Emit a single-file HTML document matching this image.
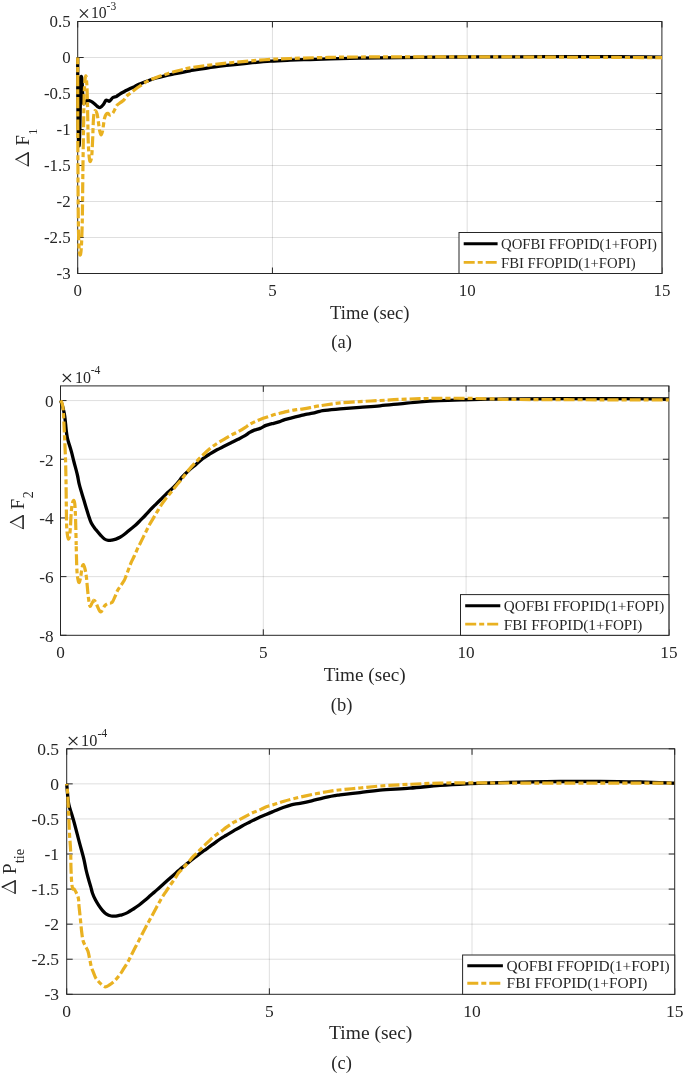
<!DOCTYPE html>
<html><head><meta charset="utf-8"><style>
html,body{margin:0;padding:0;background:#fff;overflow:hidden;}
svg{display:block;will-change:transform;}
text{font-family:"Liberation Serif", serif;fill:#262626;}
</style></head><body>
<svg width="685" height="1074" viewBox="0 0 685 1074">
<rect width="685" height="1074" fill="#fff"/>
<line x1="272.43" y1="21.5" x2="272.43" y2="273.5" stroke="#262626" stroke-opacity="0.15" stroke-width="1"/>
<line x1="467.17" y1="21.5" x2="467.17" y2="273.5" stroke="#262626" stroke-opacity="0.15" stroke-width="1"/>
<line x1="77.7" y1="57.50" x2="661.9" y2="57.50" stroke="#262626" stroke-opacity="0.15" stroke-width="1"/>
<line x1="77.7" y1="93.50" x2="661.9" y2="93.50" stroke="#262626" stroke-opacity="0.15" stroke-width="1"/>
<line x1="77.7" y1="129.50" x2="661.9" y2="129.50" stroke="#262626" stroke-opacity="0.15" stroke-width="1"/>
<line x1="77.7" y1="165.50" x2="661.9" y2="165.50" stroke="#262626" stroke-opacity="0.15" stroke-width="1"/>
<line x1="77.7" y1="201.50" x2="661.9" y2="201.50" stroke="#262626" stroke-opacity="0.15" stroke-width="1"/>
<line x1="77.7" y1="237.50" x2="661.9" y2="237.50" stroke="#262626" stroke-opacity="0.15" stroke-width="1"/>
<line x1="77.70" y1="273.5" x2="77.70" y2="267.5" stroke="#262626" stroke-width="1"/>
<line x1="77.70" y1="21.5" x2="77.70" y2="27.5" stroke="#262626" stroke-width="1"/>
<line x1="272.43" y1="273.5" x2="272.43" y2="267.5" stroke="#262626" stroke-width="1"/>
<line x1="272.43" y1="21.5" x2="272.43" y2="27.5" stroke="#262626" stroke-width="1"/>
<line x1="467.17" y1="273.5" x2="467.17" y2="267.5" stroke="#262626" stroke-width="1"/>
<line x1="467.17" y1="21.5" x2="467.17" y2="27.5" stroke="#262626" stroke-width="1"/>
<line x1="661.90" y1="273.5" x2="661.90" y2="267.5" stroke="#262626" stroke-width="1"/>
<line x1="661.90" y1="21.5" x2="661.90" y2="27.5" stroke="#262626" stroke-width="1"/>
<line x1="77.7" y1="21.50" x2="83.7" y2="21.50" stroke="#262626" stroke-width="1"/>
<line x1="661.9" y1="21.50" x2="655.9" y2="21.50" stroke="#262626" stroke-width="1"/>
<line x1="77.7" y1="57.50" x2="83.7" y2="57.50" stroke="#262626" stroke-width="1"/>
<line x1="661.9" y1="57.50" x2="655.9" y2="57.50" stroke="#262626" stroke-width="1"/>
<line x1="77.7" y1="93.50" x2="83.7" y2="93.50" stroke="#262626" stroke-width="1"/>
<line x1="661.9" y1="93.50" x2="655.9" y2="93.50" stroke="#262626" stroke-width="1"/>
<line x1="77.7" y1="129.50" x2="83.7" y2="129.50" stroke="#262626" stroke-width="1"/>
<line x1="661.9" y1="129.50" x2="655.9" y2="129.50" stroke="#262626" stroke-width="1"/>
<line x1="77.7" y1="165.50" x2="83.7" y2="165.50" stroke="#262626" stroke-width="1"/>
<line x1="661.9" y1="165.50" x2="655.9" y2="165.50" stroke="#262626" stroke-width="1"/>
<line x1="77.7" y1="201.50" x2="83.7" y2="201.50" stroke="#262626" stroke-width="1"/>
<line x1="661.9" y1="201.50" x2="655.9" y2="201.50" stroke="#262626" stroke-width="1"/>
<line x1="77.7" y1="237.50" x2="83.7" y2="237.50" stroke="#262626" stroke-width="1"/>
<line x1="661.9" y1="237.50" x2="655.9" y2="237.50" stroke="#262626" stroke-width="1"/>
<line x1="77.7" y1="273.50" x2="83.7" y2="273.50" stroke="#262626" stroke-width="1"/>
<line x1="661.9" y1="273.50" x2="655.9" y2="273.50" stroke="#262626" stroke-width="1"/>
<rect x="77.7" y="21.5" width="584.20" height="252.00" fill="none" stroke="#262626" stroke-width="1"/>
<clipPath id="clipa"><rect x="75.7" y="20.5" width="587.1999999999999" height="254.0"/></clipPath><g clip-path="url(#clipa)"><path d="M77.70,57.50 C77.72,62.92 77.73,78.75 77.80,90.00 C77.87,101.25 77.97,116.17 78.10,125.00 C78.23,133.83 78.40,139.83 78.60,143.00 C78.80,146.17 79.08,147.00 79.30,144.00 C79.52,141.00 79.72,132.33 79.90,125.00 C80.08,117.67 80.23,107.50 80.40,100.00 C80.57,92.50 80.73,83.92 80.90,80.00 C81.07,76.08 81.22,76.50 81.40,76.50 C81.58,76.50 81.78,76.92 82.00,80.00 C82.22,83.08 82.43,91.08 82.70,95.00 C82.97,98.92 83.13,102.42 83.60,103.50 C84.07,104.58 84.82,102.03 85.50,101.50 C86.18,100.97 86.75,100.32 87.70,100.30 C88.65,100.28 90.03,100.78 91.20,101.40 C92.37,102.02 93.65,103.15 94.70,104.00 C95.75,104.85 96.60,105.92 97.50,106.50 C98.40,107.08 99.12,107.83 100.10,107.50 C101.08,107.17 102.43,105.70 103.40,104.50 C104.37,103.30 105.17,100.95 105.90,100.30 C106.63,99.65 107.18,100.45 107.80,100.60 C108.42,100.75 108.75,101.72 109.60,101.20 C110.45,100.68 111.77,98.30 112.90,97.50 C114.03,96.70 115.32,96.93 116.40,96.40 C117.48,95.87 118.13,95.08 119.40,94.30 C120.67,93.52 122.35,92.57 124.00,91.70 C125.65,90.83 127.55,89.95 129.30,89.10 C131.05,88.25 132.92,87.40 134.50,86.60 C136.08,85.80 136.63,85.23 138.80,84.30 C140.97,83.37 144.58,82.05 147.50,81.00 C150.42,79.95 153.38,78.87 156.30,78.00 C159.22,77.13 162.08,76.47 165.00,75.80 C167.92,75.13 170.87,74.58 173.80,74.00 C176.73,73.42 179.90,72.83 182.60,72.30 C185.30,71.77 184.60,71.72 190.00,70.80 C195.40,69.88 205.27,68.07 215.00,66.80 C224.73,65.53 239.18,64.13 248.40,63.20 C257.62,62.27 263.37,61.70 270.30,61.20 C277.23,60.70 283.38,60.48 290.00,60.20 C296.62,59.92 303.33,59.72 310.00,59.50 C316.67,59.28 321.67,59.13 330.00,58.90 C338.33,58.67 348.33,58.32 360.00,58.10 C371.67,57.88 383.33,57.78 400.00,57.60 C416.67,57.42 440.00,57.13 460.00,57.00 C480.00,56.87 503.33,56.87 520.00,56.80 C536.67,56.73 546.67,56.63 560.00,56.60 C573.33,56.57 588.33,56.57 600.00,56.60 C611.67,56.63 619.67,56.72 630.00,56.80 C640.33,56.88 656.67,57.05 662.00,57.10" fill="none" stroke="#000" stroke-width="3.3" stroke-linejoin="round"/>
<path d="M77.70,57.50 C77.72,69.58 77.72,104.58 77.80,130.00 C77.88,155.42 78.02,190.83 78.20,210.00 C78.38,229.17 78.60,237.50 78.90,245.00 C79.20,252.50 79.60,254.50 80.00,255.00 C80.40,255.50 80.92,253.83 81.30,248.00 C81.68,242.17 82.03,233.00 82.30,220.00 C82.57,207.00 82.68,185.83 82.90,170.00 C83.12,154.17 83.37,138.00 83.60,125.00 C83.83,112.00 83.97,100.17 84.30,92.00 C84.63,83.83 85.18,77.33 85.60,76.00" fill="none" stroke="#e9b121" stroke-width="3.2" stroke-dasharray="11 3 5 3" stroke-dashoffset="4.25" stroke-linejoin="round"/>
<path d="M85.60,76.00 C86.02,74.67 86.48,79.17 86.80,84.00 C87.12,88.83 87.27,95.67 87.50,105.00 C87.73,114.33 87.92,131.33 88.20,140.00 C88.48,148.67 88.83,153.42 89.20,157.00 C89.57,160.58 89.97,161.83 90.40,161.50 C90.83,161.17 91.42,158.92 91.80,155.00 C92.18,151.08 92.43,143.83 92.70,138.00 C92.97,132.17 93.13,124.33 93.40,120.00 C93.67,115.67 93.93,113.53 94.30,112.00 C94.67,110.47 95.13,110.47 95.60,110.80" fill="none" stroke="#e9b121" stroke-width="3.2" stroke-dasharray="11 3 5 3" stroke-dashoffset="9.25" stroke-linejoin="round"/>
<path d="M95.60,110.80 C96.07,111.13 96.63,112.13 97.10,114.00 C97.57,115.87 97.97,119.17 98.40,122.00 C98.83,124.83 99.25,128.83 99.70,131.00 C100.15,133.17 100.62,135.00 101.10,135.00 C101.58,135.00 102.18,132.83 102.60,131.00 C103.02,129.17 103.27,126.17 103.60,124.00 C103.93,121.83 104.17,119.63 104.60,118.00 C105.03,116.37 105.63,114.97 106.20,114.20 C106.77,113.43 107.40,113.27 108.00,113.40 C108.60,113.53 109.22,114.82 109.80,115.00 C110.38,115.18 110.88,115.00 111.50,114.50 C112.12,114.00 112.87,113.00 113.50,112.00 C114.13,111.00 114.68,109.67 115.30,108.50 C115.92,107.33 116.33,105.98 117.20,105.00 C118.07,104.02 119.37,103.47 120.50,102.60 C121.63,101.73 123.03,100.83 124.00,99.80 C124.97,98.77 125.42,97.38 126.30,96.40 C127.18,95.42 128.10,94.85 129.30,93.90 C130.50,92.95 131.78,91.97 133.50,90.70 C135.22,89.43 137.27,87.88 139.60,86.30 C141.93,84.72 144.72,82.67 147.50,81.20 C150.28,79.73 153.38,78.62 156.30,77.50 C159.22,76.38 162.08,75.45 165.00,74.50 C167.92,73.55 170.87,72.62 173.80,71.80 C176.73,70.98 179.90,70.25 182.60,69.60 C185.30,68.95 184.60,68.77 190.00,67.90 C195.40,67.03 205.33,65.53 215.00,64.40 C224.67,63.27 238.83,61.93 248.00,61.10 C257.17,60.27 263.00,59.83 270.00,59.40 C277.00,58.97 281.67,58.80 290.00,58.50 C298.33,58.20 308.33,57.85 320.00,57.60 C331.67,57.35 336.67,57.13 360.00,57.00 C383.33,56.87 433.33,56.80 460.00,56.80 C486.67,56.80 503.33,56.93 520.00,57.00 C536.67,57.07 546.67,57.13 560.00,57.20 C573.33,57.27 588.33,57.35 600.00,57.40 C611.67,57.45 619.67,57.47 630.00,57.50 C640.33,57.53 656.67,57.58 662.00,57.60" fill="none" stroke="#e9b121" stroke-width="3.2" stroke-dasharray="11 3 5 3" stroke-dashoffset="3.0" stroke-linejoin="round"/></g>
<text x="70.70" y="27.25" text-anchor="end" font-size="16.9">0.5</text>
<text x="70.70" y="63.25" text-anchor="end" font-size="16.9">0</text>
<text x="70.70" y="99.25" text-anchor="end" font-size="16.9">-0.5</text>
<text x="70.70" y="135.25" text-anchor="end" font-size="16.9">-1</text>
<text x="70.70" y="171.25" text-anchor="end" font-size="16.9">-1.5</text>
<text x="70.70" y="207.25" text-anchor="end" font-size="16.9">-2</text>
<text x="70.70" y="243.25" text-anchor="end" font-size="16.9">-2.5</text>
<text x="70.70" y="279.25" text-anchor="end" font-size="16.9">-3</text>
<text x="77.70" y="295.90" text-anchor="middle" font-size="16.9">0</text>
<text x="272.43" y="295.90" text-anchor="middle" font-size="16.9">5</text>
<text x="467.17" y="295.90" text-anchor="middle" font-size="16.9">10</text>
<text x="661.90" y="295.90" text-anchor="middle" font-size="16.9">15</text>
<path d="M79.9,9.3 L88.0,17.6 M88.0,9.3 L79.9,17.6" stroke="#262626" stroke-width="1.15" fill="none"/>
<text transform="translate(91.0,17.9) scale(1,1.08)" font-size="15.72">10</text>
<text x="106.6" y="9.9" font-size="11.49">-3</text>
<text x="369.80" y="318.6" text-anchor="middle" font-size="18.6">Time (sec)</text>
<path d="M28.2,152.8 L16.1,159.4" stroke="#262626" stroke-width="1.5" fill="none" stroke-linecap="round"/>
<path d="M16.1,159.4 L28.2,165.9" stroke="#262626" stroke-width="0.8" fill="none" stroke-linecap="round"/>
<path d="M28.2,152.5 L28.2,166.20000000000002" stroke="#262626" stroke-width="1.6" fill="none"/>
<text transform="translate(28.8,145.6) rotate(-90)" font-size="18.6">F</text>
<text transform="translate(36.8,135.0) rotate(-90)" font-size="13.0">1</text>
<rect x="459.0" y="232.5" width="202.90" height="41.00" fill="#fff" stroke="#262626" stroke-width="1"/>
<line x1="463.7" y1="243.7" x2="497.6" y2="243.7" stroke="#000" stroke-width="3"/>
<line x1="463.7" y1="262.4" x2="497.6" y2="262.4" stroke="#e9b121" stroke-width="2.9" stroke-dasharray="11 3 5 3"/>
<text x="501.0" y="249.1" font-size="14.73">QOFBI FFOPID(1+FOPI)</text>
<text x="501.0" y="267.6" font-size="14.73">FBI FFOPID(1+FOPI)</text>
<text x="341.6" y="347.8" text-anchor="middle" font-size="18.5">(a)</text>
<line x1="263.30" y1="385.9" x2="263.30" y2="635.3" stroke="#262626" stroke-opacity="0.15" stroke-width="1"/>
<line x1="466.10" y1="385.9" x2="466.10" y2="635.3" stroke="#262626" stroke-opacity="0.15" stroke-width="1"/>
<line x1="60.5" y1="400.57" x2="668.9" y2="400.57" stroke="#262626" stroke-opacity="0.15" stroke-width="1"/>
<line x1="60.5" y1="459.25" x2="668.9" y2="459.25" stroke="#262626" stroke-opacity="0.15" stroke-width="1"/>
<line x1="60.5" y1="517.94" x2="668.9" y2="517.94" stroke="#262626" stroke-opacity="0.15" stroke-width="1"/>
<line x1="60.5" y1="576.62" x2="668.9" y2="576.62" stroke="#262626" stroke-opacity="0.15" stroke-width="1"/>
<line x1="60.50" y1="635.3" x2="60.50" y2="629.3" stroke="#262626" stroke-width="1"/>
<line x1="60.50" y1="385.9" x2="60.50" y2="391.9" stroke="#262626" stroke-width="1"/>
<line x1="263.30" y1="635.3" x2="263.30" y2="629.3" stroke="#262626" stroke-width="1"/>
<line x1="263.30" y1="385.9" x2="263.30" y2="391.9" stroke="#262626" stroke-width="1"/>
<line x1="466.10" y1="635.3" x2="466.10" y2="629.3" stroke="#262626" stroke-width="1"/>
<line x1="466.10" y1="385.9" x2="466.10" y2="391.9" stroke="#262626" stroke-width="1"/>
<line x1="668.90" y1="635.3" x2="668.90" y2="629.3" stroke="#262626" stroke-width="1"/>
<line x1="668.90" y1="385.9" x2="668.90" y2="391.9" stroke="#262626" stroke-width="1"/>
<line x1="60.5" y1="400.57" x2="66.5" y2="400.57" stroke="#262626" stroke-width="1"/>
<line x1="668.9" y1="400.57" x2="662.9" y2="400.57" stroke="#262626" stroke-width="1"/>
<line x1="60.5" y1="459.25" x2="66.5" y2="459.25" stroke="#262626" stroke-width="1"/>
<line x1="668.9" y1="459.25" x2="662.9" y2="459.25" stroke="#262626" stroke-width="1"/>
<line x1="60.5" y1="517.94" x2="66.5" y2="517.94" stroke="#262626" stroke-width="1"/>
<line x1="668.9" y1="517.94" x2="662.9" y2="517.94" stroke="#262626" stroke-width="1"/>
<line x1="60.5" y1="576.62" x2="66.5" y2="576.62" stroke="#262626" stroke-width="1"/>
<line x1="668.9" y1="576.62" x2="662.9" y2="576.62" stroke="#262626" stroke-width="1"/>
<line x1="60.5" y1="635.30" x2="66.5" y2="635.30" stroke="#262626" stroke-width="1"/>
<line x1="668.9" y1="635.30" x2="662.9" y2="635.30" stroke="#262626" stroke-width="1"/>
<rect x="60.5" y="385.9" width="608.40" height="249.40" fill="none" stroke="#262626" stroke-width="1"/>
<clipPath id="clipb"><rect x="58.5" y="384.9" width="611.4" height="251.39999999999998"/></clipPath><g clip-path="url(#clipb)"><path d="M60.50,400.50 C60.78,401.25 61.70,403.42 62.20,405.00 C62.70,406.58 63.08,408.17 63.50,410.00 C63.92,411.83 64.35,413.67 64.70,416.00 C65.05,418.33 65.33,421.50 65.60,424.00 C65.87,426.50 66.03,428.83 66.30,431.00 C66.57,433.17 66.87,435.25 67.20,437.00 C67.53,438.75 67.60,439.07 68.30,441.50 C69.00,443.93 70.45,448.18 71.40,451.60 C72.35,455.02 73.00,458.10 74.00,462.00 C75.00,465.90 76.50,471.18 77.40,475.00 C78.30,478.82 78.33,480.77 79.40,484.90 C80.47,489.03 82.32,494.83 83.80,499.80 C85.28,504.77 87.05,510.83 88.30,514.70 C89.55,518.57 90.05,520.52 91.30,523.00 C92.55,525.48 94.23,527.55 95.80,529.60 C97.37,531.65 99.25,533.73 100.70,535.30 C102.15,536.87 103.23,538.15 104.50,539.00 C105.77,539.85 107.05,540.22 108.30,540.40 C109.55,540.58 110.73,540.32 112.00,540.10 C113.27,539.88 114.57,539.57 115.90,539.10 C117.23,538.63 118.47,538.18 120.00,537.30 C121.53,536.42 123.40,535.12 125.10,533.80 C126.80,532.48 128.48,530.82 130.20,529.40 C131.92,527.98 133.68,526.83 135.40,525.30 C137.12,523.77 138.80,521.92 140.50,520.20 C142.20,518.48 143.90,516.80 145.60,515.00 C147.30,513.20 149.00,511.18 150.70,509.40 C152.40,507.62 154.08,506.00 155.80,504.30 C157.52,502.60 159.28,500.90 161.00,499.20 C162.72,497.50 164.40,495.72 166.10,494.10 C167.80,492.48 169.50,491.13 171.20,489.50 C172.90,487.87 174.83,485.90 176.30,484.30 C177.77,482.70 179.05,481.08 180.00,479.90 C180.95,478.72 180.50,478.82 182.00,477.20 C183.50,475.58 186.67,472.33 189.00,470.20 C191.33,468.07 193.67,466.35 196.00,464.40 C198.33,462.45 200.67,460.25 203.00,458.50 C205.33,456.75 207.67,455.35 210.00,453.90 C212.33,452.45 214.67,451.07 217.00,449.80 C219.33,448.53 221.65,447.47 224.00,446.30 C226.35,445.13 228.75,443.97 231.10,442.80 C233.45,441.63 235.78,440.50 238.10,439.30 C240.42,438.10 243.07,436.75 245.00,435.60 C246.93,434.45 248.15,433.32 249.70,432.40 C251.25,431.48 252.55,430.77 254.30,430.10 C256.05,429.43 258.25,429.18 260.20,428.40 C262.15,427.62 264.05,426.18 266.00,425.40 C267.95,424.62 269.75,424.28 271.90,423.70 C274.05,423.12 276.77,422.58 278.90,421.90 C281.03,421.22 282.57,420.28 284.70,419.60 C286.83,418.92 289.37,418.38 291.70,417.80 C294.03,417.22 296.37,416.68 298.70,416.10 C301.03,415.52 303.37,414.78 305.70,414.30 C308.03,413.82 310.37,413.70 312.70,413.20 C315.03,412.70 317.65,411.78 319.70,411.30 C321.75,410.82 321.62,410.72 325.00,410.30 C328.38,409.88 334.17,409.30 340.00,408.80 C345.83,408.30 353.33,407.80 360.00,407.30 C366.67,406.80 373.33,406.38 380.00,405.80 C386.67,405.22 393.33,404.47 400.00,403.80 C406.67,403.13 413.45,402.33 420.00,401.80 C426.55,401.27 431.95,400.93 439.30,400.60 C446.65,400.27 455.83,400.03 464.10,399.80 C472.37,399.57 479.58,399.37 488.90,399.20 C498.22,399.03 501.48,398.90 520.00,398.80 C538.52,398.70 575.18,398.60 600.00,398.60 C624.82,398.60 657.42,398.77 668.90,398.80" fill="none" stroke="#000" stroke-width="3.3" stroke-linejoin="round"/>
<path d="M60.50,400.50 C60.75,400.92 61.55,401.43 62.00,403.00 C62.45,404.57 62.87,406.27 63.20,409.90 C63.53,413.53 63.75,419.82 64.00,424.80 C64.25,429.78 64.45,434.10 64.70,439.80 C64.95,445.50 65.28,452.30 65.50,459.00 C65.72,465.70 65.87,472.33 66.00,480.00 C66.13,487.67 66.20,497.50 66.30,505.00 C66.40,512.50 66.43,520.17 66.60,525.00 C66.77,529.83 67.00,531.67 67.30,534.00 C67.60,536.33 68.02,538.67 68.40,539.00 C68.78,539.33 69.27,538.00 69.60,536.00 C69.93,534.00 70.15,530.50 70.40,527.00 C70.65,523.50 70.83,518.67 71.10,515.00 C71.37,511.33 71.62,507.42 72.00,505.00 C72.38,502.58 72.93,500.67 73.40,500.50 C73.87,500.33 74.43,500.75 74.80,504.00 C75.17,507.25 75.37,513.17 75.60,520.00 C75.83,526.83 76.02,537.50 76.20,545.00" fill="none" stroke="#e9b121" stroke-width="3.2" stroke-dasharray="11 3 5 3" stroke-dashoffset="0.5" stroke-linejoin="round"/>
<path d="M76.20,545.00 C76.38,552.50 76.50,559.83 76.70,565.00 C76.90,570.17 77.03,573.08 77.40,576.00 C77.77,578.92 78.38,582.17 78.90,582.50 C79.42,582.83 79.98,580.42 80.50,578.00 C81.02,575.58 81.52,570.23 82.00,568.00 C82.48,565.77 82.90,564.43 83.40,564.60 C83.90,564.77 84.50,566.93 85.00,569.00 C85.50,571.07 85.93,573.17 86.40,577.00 C86.87,580.83 87.37,587.87 87.80,592.00 C88.23,596.13 88.62,599.40 89.00,601.80 C89.38,604.20 89.63,606.12 90.10,606.40 C90.57,606.68 91.18,604.52 91.80,603.50 C92.42,602.48 93.17,600.55 93.80,600.30" fill="none" stroke="#e9b121" stroke-width="3.2" stroke-dasharray="11 3 5 3" stroke-dashoffset="12.75" stroke-linejoin="round"/>
<path d="M93.80,600.30 C94.43,600.05 94.97,600.92 95.60,602.00 C96.23,603.08 96.75,605.13 97.60,606.80 C98.45,608.47 99.53,612.15 100.70,612.00 C101.87,611.85 103.37,607.35 104.60,605.90 C105.83,604.45 106.85,603.88 108.10,603.30 C109.35,602.72 110.93,603.57 112.10,602.40 C113.27,601.23 114.15,598.35 115.10,596.30 C116.05,594.25 116.77,592.00 117.80,590.10 C118.83,588.20 120.35,586.33 121.30,584.90 C122.25,583.47 122.87,582.57 123.50,581.50 C124.13,580.43 124.32,580.37 125.10,578.50 C125.88,576.63 127.17,573.03 128.20,570.30 C129.23,567.57 130.28,564.48 131.30,562.10 C132.32,559.72 133.28,558.22 134.30,556.00 C135.32,553.78 136.37,551.02 137.40,548.80 C138.43,546.58 139.48,544.73 140.50,542.70 C141.52,540.67 142.48,538.65 143.50,536.60 C144.52,534.55 145.57,532.45 146.60,530.40 C147.63,528.35 148.67,526.18 149.70,524.30 C150.73,522.42 151.78,520.82 152.80,519.10 C153.82,517.38 154.78,515.70 155.80,514.00 C156.82,512.30 157.87,510.60 158.90,508.90 C159.93,507.20 160.98,505.33 162.00,503.80 C163.02,502.27 163.82,501.23 165.00,499.70 C166.18,498.17 167.73,496.30 169.10,494.60 C170.47,492.90 171.83,491.22 173.20,489.50 C174.57,487.78 176.17,485.67 177.30,484.30 C178.43,482.93 179.05,482.43 180.00,481.30 C180.95,480.17 181.50,479.45 183.00,477.50 C184.50,475.55 186.83,472.18 189.00,469.60 C191.17,467.02 193.67,464.43 196.00,462.00 C198.33,459.57 200.67,457.23 203.00,455.00 C205.33,452.77 207.67,450.53 210.00,448.60 C212.33,446.67 214.67,444.95 217.00,443.40 C219.33,441.85 221.65,440.67 224.00,439.30 C226.35,437.93 228.75,436.47 231.10,435.20 C233.45,433.93 235.78,432.97 238.10,431.70 C240.42,430.43 243.07,428.83 245.00,427.60 C246.93,426.37 247.95,425.33 249.70,424.30 C251.45,423.27 253.55,422.28 255.50,421.40 C257.45,420.52 259.25,419.78 261.40,419.00 C263.55,418.22 266.07,417.48 268.40,416.70 C270.73,415.92 273.07,414.98 275.40,414.30 C277.73,413.62 280.07,413.18 282.40,412.60 C284.73,412.02 287.07,411.28 289.40,410.80 C291.73,410.32 294.07,410.03 296.40,409.70 C298.73,409.37 301.07,409.15 303.40,408.80 C305.73,408.45 308.07,408.03 310.40,407.60 C312.73,407.17 314.97,406.63 317.40,406.20 C319.83,405.77 321.23,405.55 325.00,405.00 C328.77,404.45 334.17,403.47 340.00,402.90 C345.83,402.33 353.33,402.00 360.00,401.60 C366.67,401.20 373.33,400.87 380.00,400.50 C386.67,400.13 393.33,399.70 400.00,399.40 C406.67,399.10 413.45,398.88 420.00,398.70 C426.55,398.52 431.95,398.37 439.30,398.30 C446.65,398.23 455.83,398.22 464.10,398.30 C472.37,398.38 479.58,398.60 488.90,398.80 C498.22,399.00 501.48,399.33 520.00,399.50 C538.52,399.67 575.18,399.75 600.00,399.80 C624.82,399.85 657.42,399.80 668.90,399.80" fill="none" stroke="#e9b121" stroke-width="3.2" stroke-dasharray="11 3 5 3" stroke-dashoffset="16.5" stroke-linejoin="round"/></g>
<text x="53.70" y="406.82" text-anchor="end" font-size="17.2">0</text>
<text x="53.70" y="465.50" text-anchor="end" font-size="17.2">-2</text>
<text x="53.70" y="524.18" text-anchor="end" font-size="17.2">-4</text>
<text x="53.70" y="582.87" text-anchor="end" font-size="17.2">-6</text>
<text x="53.70" y="641.55" text-anchor="end" font-size="17.2">-8</text>
<text x="60.50" y="657.70" text-anchor="middle" font-size="17.2">0</text>
<text x="263.30" y="657.70" text-anchor="middle" font-size="17.2">5</text>
<text x="466.10" y="657.70" text-anchor="middle" font-size="17.2">10</text>
<text x="668.90" y="657.70" text-anchor="middle" font-size="17.2">15</text>
<path d="M62.8,374.0 L71.0,381.9 M71.0,374.0 L62.8,381.9" stroke="#262626" stroke-width="1.15" fill="none"/>
<text transform="translate(75.0,382.8) scale(1,1.08)" font-size="16.00">10</text>
<text x="90.7" y="374.0" font-size="11.70">-4</text>
<text x="364.70" y="680.7" text-anchor="middle" font-size="19.2">Time (sec)</text>
<path d="M23.1,515.7 L10.6,522.3" stroke="#262626" stroke-width="1.5" fill="none" stroke-linecap="round"/>
<path d="M10.6,522.3 L23.1,528.7" stroke="#262626" stroke-width="0.8" fill="none" stroke-linecap="round"/>
<path d="M23.1,515.4000000000001 L23.1,529.0" stroke="#262626" stroke-width="1.6" fill="none"/>
<text transform="translate(23.7,509.5) rotate(-90)" font-size="19.2">F</text>
<text transform="translate(32.7,498.3) rotate(-90)" font-size="14.0">2</text>
<rect x="460.5" y="594.6" width="208.40" height="40.70" fill="#fff" stroke="#262626" stroke-width="1"/>
<line x1="465.2" y1="605.8" x2="500.3" y2="605.8" stroke="#000" stroke-width="3"/>
<line x1="465.2" y1="624.1" x2="500.3" y2="624.1" stroke="#e9b121" stroke-width="2.9" stroke-dasharray="11 3 5 3"/>
<text x="503.8" y="611.1" font-size="15.15">QOFBI FFOPID(1+FOPI)</text>
<text x="503.8" y="629.6" font-size="15.15">FBI FFOPID(1+FOPI)</text>
<text x="341.6" y="710.9" text-anchor="middle" font-size="18.5">(b)</text>
<line x1="269.37" y1="748.8" x2="269.37" y2="994.3" stroke="#262626" stroke-opacity="0.15" stroke-width="1"/>
<line x1="472.03" y1="748.8" x2="472.03" y2="994.3" stroke="#262626" stroke-opacity="0.15" stroke-width="1"/>
<line x1="66.7" y1="783.87" x2="674.7" y2="783.87" stroke="#262626" stroke-opacity="0.15" stroke-width="1"/>
<line x1="66.7" y1="818.94" x2="674.7" y2="818.94" stroke="#262626" stroke-opacity="0.15" stroke-width="1"/>
<line x1="66.7" y1="854.01" x2="674.7" y2="854.01" stroke="#262626" stroke-opacity="0.15" stroke-width="1"/>
<line x1="66.7" y1="889.09" x2="674.7" y2="889.09" stroke="#262626" stroke-opacity="0.15" stroke-width="1"/>
<line x1="66.7" y1="924.16" x2="674.7" y2="924.16" stroke="#262626" stroke-opacity="0.15" stroke-width="1"/>
<line x1="66.7" y1="959.23" x2="674.7" y2="959.23" stroke="#262626" stroke-opacity="0.15" stroke-width="1"/>
<line x1="66.70" y1="994.3" x2="66.70" y2="988.3" stroke="#262626" stroke-width="1"/>
<line x1="66.70" y1="748.8" x2="66.70" y2="754.8" stroke="#262626" stroke-width="1"/>
<line x1="269.37" y1="994.3" x2="269.37" y2="988.3" stroke="#262626" stroke-width="1"/>
<line x1="269.37" y1="748.8" x2="269.37" y2="754.8" stroke="#262626" stroke-width="1"/>
<line x1="472.03" y1="994.3" x2="472.03" y2="988.3" stroke="#262626" stroke-width="1"/>
<line x1="472.03" y1="748.8" x2="472.03" y2="754.8" stroke="#262626" stroke-width="1"/>
<line x1="674.70" y1="994.3" x2="674.70" y2="988.3" stroke="#262626" stroke-width="1"/>
<line x1="674.70" y1="748.8" x2="674.70" y2="754.8" stroke="#262626" stroke-width="1"/>
<line x1="66.7" y1="748.80" x2="72.7" y2="748.80" stroke="#262626" stroke-width="1"/>
<line x1="674.7" y1="748.80" x2="668.7" y2="748.80" stroke="#262626" stroke-width="1"/>
<line x1="66.7" y1="783.87" x2="72.7" y2="783.87" stroke="#262626" stroke-width="1"/>
<line x1="674.7" y1="783.87" x2="668.7" y2="783.87" stroke="#262626" stroke-width="1"/>
<line x1="66.7" y1="818.94" x2="72.7" y2="818.94" stroke="#262626" stroke-width="1"/>
<line x1="674.7" y1="818.94" x2="668.7" y2="818.94" stroke="#262626" stroke-width="1"/>
<line x1="66.7" y1="854.01" x2="72.7" y2="854.01" stroke="#262626" stroke-width="1"/>
<line x1="674.7" y1="854.01" x2="668.7" y2="854.01" stroke="#262626" stroke-width="1"/>
<line x1="66.7" y1="889.09" x2="72.7" y2="889.09" stroke="#262626" stroke-width="1"/>
<line x1="674.7" y1="889.09" x2="668.7" y2="889.09" stroke="#262626" stroke-width="1"/>
<line x1="66.7" y1="924.16" x2="72.7" y2="924.16" stroke="#262626" stroke-width="1"/>
<line x1="674.7" y1="924.16" x2="668.7" y2="924.16" stroke="#262626" stroke-width="1"/>
<line x1="66.7" y1="959.23" x2="72.7" y2="959.23" stroke="#262626" stroke-width="1"/>
<line x1="674.7" y1="959.23" x2="668.7" y2="959.23" stroke="#262626" stroke-width="1"/>
<line x1="66.7" y1="994.30" x2="72.7" y2="994.30" stroke="#262626" stroke-width="1"/>
<line x1="674.7" y1="994.30" x2="668.7" y2="994.30" stroke="#262626" stroke-width="1"/>
<rect x="66.7" y="748.8" width="608.00" height="245.50" fill="none" stroke="#262626" stroke-width="1"/>
<clipPath id="clipc"><rect x="64.7" y="747.8" width="611.0" height="247.5"/></clipPath><g clip-path="url(#clipc)"><path d="M66.70,783.80 C66.82,785.17 67.15,789.13 67.40,792.00 C67.65,794.87 67.83,798.42 68.20,801.00 C68.57,803.58 69.05,805.42 69.60,807.50 C70.15,809.58 70.72,810.92 71.50,813.50 C72.28,816.08 73.03,818.35 74.30,823.00 C75.57,827.65 77.55,835.57 79.10,841.40 C80.65,847.23 82.43,853.23 83.60,858.00 C84.77,862.77 85.30,866.53 86.10,870.00 C86.90,873.47 87.62,875.98 88.40,878.80 C89.18,881.62 90.12,884.50 90.80,886.90 C91.48,889.30 91.73,891.05 92.50,893.20 C93.27,895.35 94.33,897.73 95.40,899.80 C96.47,901.87 97.73,903.85 98.90,905.60 C100.07,907.35 101.13,908.87 102.40,910.30 C103.67,911.73 105.03,913.25 106.50,914.20 C107.97,915.15 109.63,915.68 111.20,916.00 C112.77,916.32 114.35,916.25 115.90,916.10 C117.45,915.95 119.53,915.30 120.50,915.10 C121.47,914.90 120.53,915.32 121.70,914.90 C122.87,914.48 125.55,913.58 127.50,912.60 C129.45,911.62 131.45,910.27 133.40,909.00 C135.35,907.73 137.27,906.45 139.20,905.00 C141.13,903.55 143.13,901.87 145.00,900.30 C146.87,898.73 148.77,897.02 150.40,895.60 C152.03,894.18 153.35,893.08 154.80,891.80 C156.25,890.52 157.65,889.20 159.10,887.90 C160.55,886.60 162.03,885.30 163.50,884.00 C164.97,882.70 165.82,881.95 167.90,880.10 C169.98,878.25 173.92,874.77 176.00,872.90 C178.08,871.03 178.93,870.12 180.40,868.90 C181.87,867.68 183.35,866.77 184.80,865.60 C186.25,864.43 187.65,863.10 189.10,861.90 C190.55,860.70 192.03,859.53 193.50,858.40 C194.97,857.27 196.43,856.20 197.90,855.10 C199.37,854.00 200.95,852.75 202.30,851.80 C203.65,850.85 204.98,850.12 206.00,849.40 C207.02,848.68 207.27,848.35 208.40,847.50 C209.53,846.65 211.35,845.35 212.80,844.30 C214.25,843.25 215.65,842.23 217.10,841.20 C218.55,840.17 220.03,839.05 221.50,838.10 C222.97,837.15 224.43,836.37 225.90,835.50 C227.37,834.63 228.95,833.70 230.30,832.90 C231.65,832.10 232.10,831.82 234.00,830.70 C235.90,829.58 239.05,827.65 241.70,826.20 C244.35,824.75 247.18,823.38 249.90,822.00 C252.62,820.62 255.28,819.17 258.00,817.90 C260.72,816.63 263.57,815.50 266.20,814.40 C268.83,813.30 271.08,812.40 273.80,811.30 C276.52,810.20 279.58,808.88 282.50,807.80 C285.42,806.72 288.38,805.55 291.30,804.80 C294.22,804.05 296.60,803.97 300.00,803.30 C303.40,802.63 307.80,801.72 311.70,800.80 C315.60,799.88 319.52,798.67 323.40,797.80 C327.28,796.93 332.23,796.08 335.00,795.60 C337.77,795.12 335.83,795.40 340.00,794.90 C344.17,794.40 353.33,793.40 360.00,792.60 C366.67,791.80 371.67,790.85 380.00,790.10 C388.33,789.35 400.00,788.88 410.00,788.10 C420.00,787.32 430.53,786.12 440.00,785.40 C449.47,784.68 458.43,784.20 466.80,783.80 C475.17,783.40 481.33,783.27 490.20,783.00 C499.07,782.73 508.37,782.45 520.00,782.20 C531.63,781.95 546.67,781.65 560.00,781.50 C573.33,781.35 586.67,781.22 600.00,781.30 C613.33,781.38 627.55,781.68 640.00,782.00 C652.45,782.32 668.92,783.00 674.70,783.20" fill="none" stroke="#000" stroke-width="3.3" stroke-linejoin="round"/>
<path d="M66.70,783.80 C66.85,785.32 67.27,787.65 67.60,792.90 C67.93,798.15 68.38,808.45 68.70,815.30 C69.02,822.15 69.18,828.22 69.50,834.00 C69.82,839.78 70.35,844.23 70.60,850.00 C70.85,855.77 70.82,863.13 71.00,868.60 C71.18,874.07 71.40,879.43 71.70,882.80 C72.00,886.17 72.33,887.68 72.80,888.80 C73.27,889.92 73.60,888.05 74.50,889.50 C75.40,890.95 77.45,894.75 78.20,897.50 C78.95,900.25 78.63,902.38 79.00,906.00 C79.37,909.62 79.95,914.87 80.40,919.20 C80.85,923.53 81.27,928.45 81.70,932.00 C82.13,935.55 82.42,938.20 83.00,940.50 C83.58,942.80 84.38,944.03 85.20,945.80 C86.02,947.57 87.15,948.88 87.90,951.10 C88.65,953.32 89.12,956.42 89.70,959.10 C90.28,961.78 90.75,964.92 91.40,967.20 C92.05,969.48 92.92,971.07 93.60,972.80 C94.28,974.53 94.80,976.28 95.50,977.60 C96.20,978.92 96.78,979.53 97.80,980.70 C98.82,981.87 100.33,983.57 101.60,984.60 C102.87,985.63 104.08,986.85 105.40,986.90 C106.72,986.95 108.03,985.83 109.50,984.90 C110.97,983.97 112.63,982.78 114.20,981.30 C115.77,979.82 117.53,977.75 118.90,976.00 C120.27,974.25 121.33,972.45 122.40,970.80 C123.47,969.15 124.33,967.67 125.30,966.10 C126.27,964.53 127.33,962.95 128.20,961.40 C129.07,959.85 129.33,959.10 130.50,956.80 C131.67,954.50 133.55,950.82 135.20,947.60 C136.85,944.38 138.67,940.87 140.40,937.50 C142.13,934.13 143.80,930.78 145.60,927.40 C147.40,924.02 149.35,920.62 151.20,917.20 C153.05,913.78 155.00,910.02 156.70,906.90 C158.40,903.78 159.83,901.10 161.40,898.50 C162.97,895.90 164.55,893.63 166.10,891.30 C167.65,888.97 169.15,886.73 170.70,884.50 C172.25,882.27 174.15,879.77 175.40,877.90 C176.65,876.03 177.00,874.83 178.20,873.30 C179.40,871.77 181.00,870.45 182.60,868.70 C184.20,866.95 185.98,864.88 187.80,862.80 C189.62,860.72 191.82,857.98 193.50,856.20 C195.18,854.42 196.28,853.70 197.90,852.10 C199.52,850.50 201.45,848.33 203.20,846.60 C204.95,844.87 206.80,843.22 208.40,841.70 C210.00,840.18 211.35,838.75 212.80,837.50 C214.25,836.25 215.65,835.27 217.10,834.20 C218.55,833.13 220.03,832.20 221.50,831.10 C222.97,830.00 224.43,828.68 225.90,827.60 C227.37,826.52 228.95,825.50 230.30,824.60 C231.65,823.70 232.40,823.07 234.00,822.20 C235.60,821.33 237.17,820.80 239.90,819.40 C242.63,818.00 246.98,815.43 250.40,813.80 C253.82,812.17 257.63,810.80 260.40,809.60 C263.17,808.40 264.28,807.60 267.00,806.60 C269.72,805.60 273.87,804.50 276.70,803.60 C279.53,802.70 281.28,802.00 284.00,801.20 C286.72,800.40 289.55,799.65 293.00,798.80 C296.45,797.95 300.90,796.93 304.70,796.10 C308.50,795.27 312.10,794.53 315.80,793.80 C319.50,793.07 323.50,792.28 326.90,791.70 C330.30,791.12 332.68,790.73 336.20,790.30 C339.72,789.87 344.03,789.48 348.00,789.10 C351.97,788.72 354.67,788.52 360.00,788.00 C365.33,787.48 371.67,786.62 380.00,786.00 C388.33,785.38 400.00,784.78 410.00,784.30 C420.00,783.82 430.00,783.33 440.00,783.10 C450.00,782.87 460.00,782.92 470.00,782.90 C480.00,782.88 478.33,782.95 500.00,783.00 C521.67,783.05 570.88,783.17 600.00,783.20 C629.12,783.23 662.25,783.20 674.70,783.20" fill="none" stroke="#e9b121" stroke-width="3.2" stroke-dasharray="11 3 5 3" stroke-dashoffset="9.0" stroke-linejoin="round"/></g>
<text x="59.10" y="754.75" text-anchor="end" font-size="17.5">0.5</text>
<text x="59.10" y="789.82" text-anchor="end" font-size="17.5">0</text>
<text x="59.10" y="824.89" text-anchor="end" font-size="17.5">-0.5</text>
<text x="59.10" y="859.96" text-anchor="end" font-size="17.5">-1</text>
<text x="59.10" y="895.04" text-anchor="end" font-size="17.5">-1.5</text>
<text x="59.10" y="930.11" text-anchor="end" font-size="17.5">-2</text>
<text x="59.10" y="965.18" text-anchor="end" font-size="17.5">-2.5</text>
<text x="59.10" y="1000.25" text-anchor="end" font-size="17.5">-3</text>
<text x="66.70" y="1016.70" text-anchor="middle" font-size="17.5">0</text>
<text x="269.37" y="1016.70" text-anchor="middle" font-size="17.5">5</text>
<text x="472.03" y="1016.70" text-anchor="middle" font-size="17.5">10</text>
<text x="674.70" y="1016.70" text-anchor="middle" font-size="17.5">15</text>
<path d="M68.8,737.0 L77.4,745.1 M77.4,737.0 L68.8,745.1" stroke="#262626" stroke-width="1.15" fill="none"/>
<text transform="translate(81.0,745.9) scale(1,1.08)" font-size="16.28">10</text>
<text x="97.4" y="737.0" font-size="11.90">-4</text>
<text x="370.70" y="1038.9" text-anchor="middle" font-size="19.5">Time (sec)</text>
<path d="M15.1,880.8 L2.3,887.0" stroke="#262626" stroke-width="1.5" fill="none" stroke-linecap="round"/>
<path d="M2.3,887.0 L15.1,893.4" stroke="#262626" stroke-width="0.8" fill="none" stroke-linecap="round"/>
<path d="M15.1,880.5 L15.1,893.6999999999999" stroke="#262626" stroke-width="1.6" fill="none"/>
<text transform="translate(15.6,874.2) rotate(-90)" font-size="19.5">P</text>
<text transform="translate(24.3,863.2) rotate(-90)" font-size="14.5">tie</text>
<rect x="462.6" y="955.0" width="212.10" height="39.30" fill="#fff" stroke="#262626" stroke-width="1"/>
<line x1="467.3" y1="965.7" x2="502.9" y2="965.7" stroke="#000" stroke-width="3"/>
<line x1="467.3" y1="983.2" x2="502.9" y2="983.2" stroke="#e9b121" stroke-width="2.9" stroke-dasharray="11 3 5 3"/>
<text x="506.6" y="970.6" font-size="15.4">QOFBI FFOPID(1+FOPI)</text>
<text x="506.6" y="988.2" font-size="15.4">FBI FFOPID(1+FOPI)</text>
<text x="341.6" y="1069.3" text-anchor="middle" font-size="18.5">(c)</text>
</svg></body></html>
